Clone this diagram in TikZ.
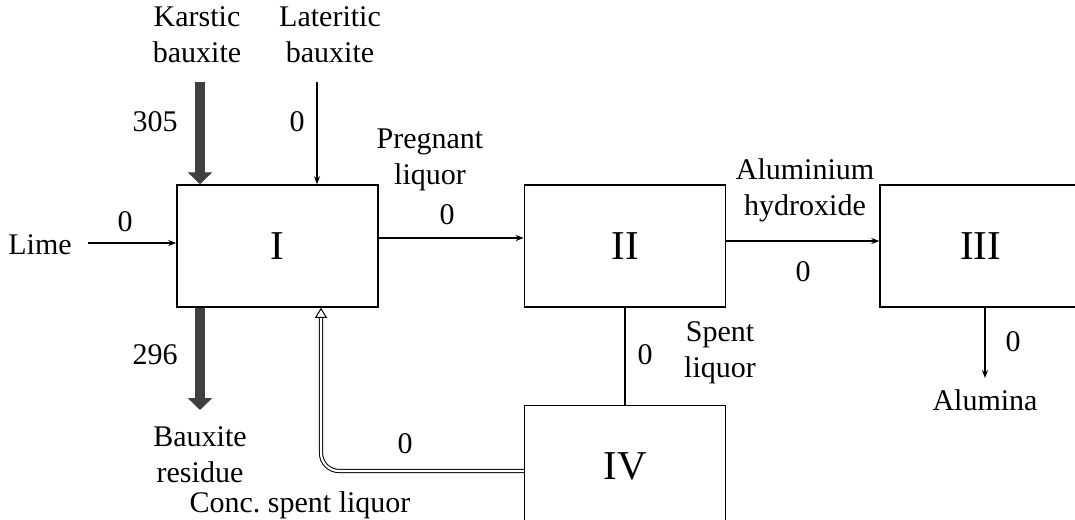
\documentclass[tikz,border=0pt]{standalone}
\usepackage{fontspec}
\setmainfont{Liberation Serif}
\usepackage{tikz}
\usetikzlibrary{arrows.meta,
positioning,
calc}

\begin{document}
\begin{tikzpicture}[
x=0.5pt, y=-0.5pt,
node distance=73pt,
font=\fontsize{15}{18}\selectfont,
unit/.style={
draw,
line width=0.75pt,
minimum width=100.5pt,
minimum height=61pt,
font=\fontsize{20.5}{24}\selectfont
},
lbl/.style={align=center, inner sep=0pt},
flow/.style={line width=0.75pt, -{Stealth[length=4pt,width=3pt]}},
bigflow/.style={line width=5pt, draw=black!75, -{Triangle[length=6pt,width=12pt]}},
recycle/.style={double, double distance=1.1pt, line width=0.5pt, rounded corners=9pt,
-{Triangle[open,length=5pt,width=6pt]}},
>=Stealth
]
\useasboundingbox (0,0) rectangle (1075,519);

% process units
\node[unit] (I) at (277.5,246) {I};
\node[unit] (II) [right=72.5pt of I] {II};
\node[unit] (III) [right=76.5pt of II] {III};
\node[unit] (IV) [below=48.5pt of II] {IV};

% free ends
\coordinate (karst) at (200,82);
\coordinate (later) at (317,82);
\coordinate (lime) at (88,243);
\coordinate (resid) at (200,410);
\coordinate (alum) at (985,378);
\coordinate (bend) at (321,471);

% streams
\draw[bigflow] (karst) -- (karst |- I.north);
\draw[flow] (later) -- (later |- I.north);
\draw[flow] (lime) -- (lime -| I.west);
\draw[flow] ($(I.east)+(0,-8)$) -- ($(II.west)+(0,-8)$);
\draw[flow] ($(II.east)+(0,-5)$) -- ($(III.west)+(0,-5)$);
\draw[line width=0.75pt] (II.south) -- (IV.north);
\draw[flow] (alum |- III.south) -- (alum);
\draw[bigflow] (resid |- I.south) -- (resid);
\draw[recycle] (bend -| IV.west) -- (bend) -- (bend |- I.south);

% labels
\node[lbl] (karstTxt) at (197,35) {Karstic\\bauxite};
\node[lbl] (laterTxt) at (330,35) {Lateritic\\bauxite};
\node[lbl] (karstVal) at (155,122) {305};
\node[lbl] (laterVal) at (297,122) {0};
\node[lbl] (limeTxt) at (40,245) {Lime};
\node[lbl] (limeVal) at (125,222) {0};
\node[lbl] (pregTxt) at (430,160) {Pregnant\\liquor};
\node[lbl] (pregVal) at (447,215) {0};
\node[lbl] (hydrTxt) at (805,190) {Aluminium\\hydroxide};
\node[lbl] (hydrVal) at (803,272) {0};
\node[lbl] (spentVal) at (645,355) {0};
\node[lbl] (spentTxt) at (720,353) {Spent\\liquor};
\node[lbl] (alumVal) at (1013,342) {0};
\node[lbl] (alumTxt) at (985,400) {Alumina};
\node[lbl] (residVal) at (155,355) {296};
\node[lbl] (residTxt) at (200,455) {Bauxite\\residue};
\node[lbl] (concVal) at (405,444) {0};
\node[lbl] (concTxt) at (300,505) {Conc.\ spent liquor};

\end{tikzpicture}
\end{document}
